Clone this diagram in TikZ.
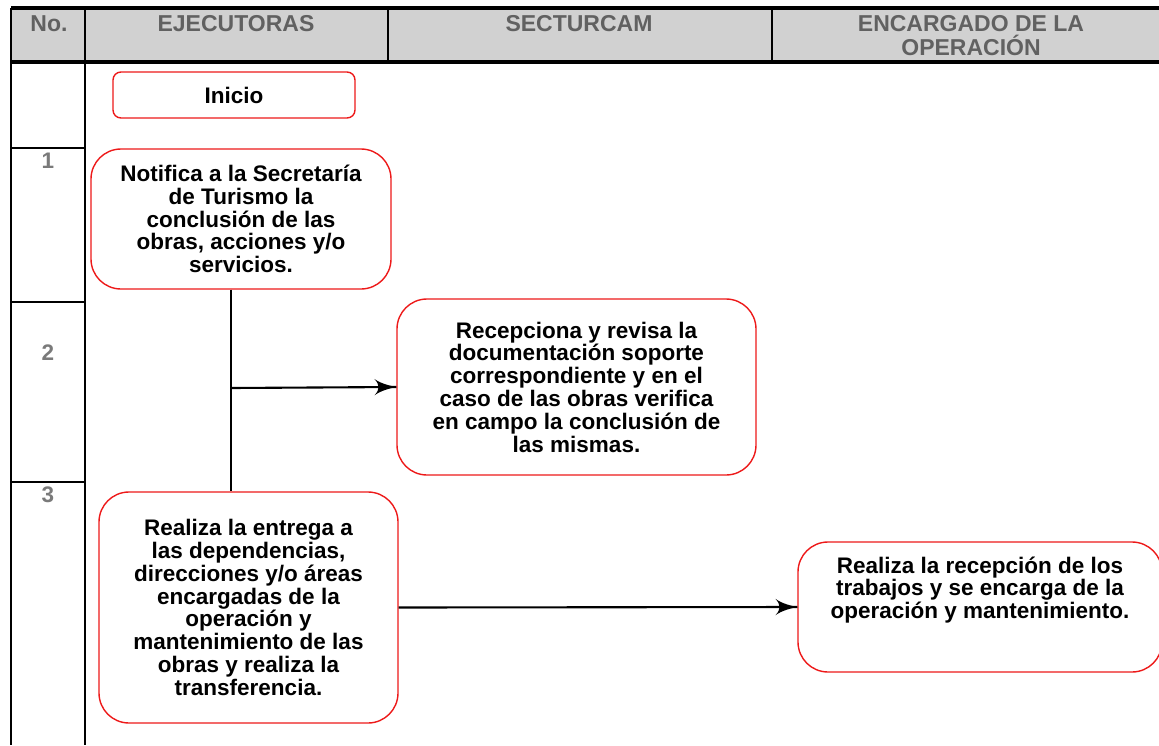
\documentclass[tikz,border=0pt]{standalone}
\usepackage{fontspec}
\setmainfont{Liberation Sans}
\usepackage{tikz}
\usetikzlibrary{arrows}
\usetikzlibrary{decorations.markings}
\usetikzlibrary{positioning}
\definecolor{rojo}{rgb}{0.93, 0.1, 0.1}
\definecolor{grisfondo}{rgb}{0.82, 0.82, 0.82}
\definecolor{gristxt}{rgb}{0.38, 0.38, 0.38}
\definecolor{grisnum}{rgb}{0.48, 0.48, 0.48}
\newcommand{\cuerpo}{\fontsize{22.5}{22.8}\selectfont\bfseries}
\newcommand{\encabezado}{\fontsize{23}{24}\selectfont\bfseries}
\tikzset{flecha/.style = {decoration={markings,
                                      mark=at position 1 with {\arrow[scale=2.4]{latex'}}},
                          postaction={decorate}}}
\tikzset{caja/.style = {draw=rojo, line width=1.4pt, rounded corners=30pt,
                        align=center, font=\cuerpo, inner sep=0}}
\tikzset{texto/.style = {align=center, font=\cuerpo, inner sep=0}}
\tikzset{encab/.style = {text=gristxt, font=\encabezado, align=center, anchor=north, inner sep=0}}
\tikzset{num/.style = {text=grisnum, font=\cuerpo, anchor=north, inner sep=0}}
\tikzset{linea/.style = {line width=2.1pt}}

\begin{document}
\begin{tikzpicture}[x=1pt, y=-1pt]
  \useasboundingbox (0,0) rectangle (1159,745);
  % encabezado
  \fill [grisfondo] (11,8) rectangle (1159,62);
  \draw [line width=3.5pt] (11,8) -- (1159,8);
  \draw [line width=3.5pt] (11,62) -- (1159,62);
  \foreach \x in {388, 772} {
    \draw [line width=2pt] (\x,8) -- (\x,62);
  }
  \foreach \x in {11, 85} {
    \draw [line width=2.5pt] (\x,8) -- (\x,745);
  }
  \foreach \y in {148, 302, 482} {
    \draw [line width=2.5pt] (11,\y) -- (85,\y);
  }
  \node [encab] (hno) at (49,15) {No.};
  \node [encab] (hejec) at (236,15) {EJECUTORAS};
  \node [encab] (hsect) at (579,15) {SECTURCAM};
  \node [encab] (hencar) at (971,15) {ENCARGADO DE LA\\OPERACIÓN};
  \foreach \n/\y in {1/153, 2/345, 3/487} {
    \node [num] (n\n) at (48,\y) {\n};
  }

  % cajas
  \node [caja, rounded corners=8pt, minimum width=242pt, minimum height=46pt]
    (inicio) at (234,95) {Inicio};
  \node [caja, minimum width=300pt, minimum height=140pt] (caja1) at (241,219)
    {Notifica a la Secretaría\\de Turismo la\\conclusión de las\\obras, acciones y/o\\servicios.};
  \node [caja, minimum width=359pt, minimum height=176pt] (caja2) at (576.5,387)
    {Recepciona y revisa la\\documentación soporte\\correspondiente y en el\\caso de las obras verifica\\en campo la conclusión de\\las mismas.};
  \node [caja, minimum width=299pt, minimum height=231pt] (caja3) at (248.5,607.5)
    {Realiza la entrega a\\las dependencias,\\direcciones y/o áreas\\encargadas de la\\operación y\\mantenimiento de las\\obras y realiza la\\transferencia.};
  \node [caja, minimum width=364pt, minimum height=130pt] (caja4) at (980,607) {};
  \node [texto, below=15pt of caja4.north] (texto4)
    {Realiza la recepción de los\\trabajos y se encarga de la\\operación y mantenimiento.};

  % conectores
  \coordinate (bajada) at (231,388);
  \draw [linea] (caja1.south -| bajada) -- (caja3.north -| bajada);
  \draw [linea, flecha] (bajada) -- (caja2.west);
  \draw [linea, flecha] (caja3.east) -- (caja4.west);
\end{tikzpicture}
\end{document}
